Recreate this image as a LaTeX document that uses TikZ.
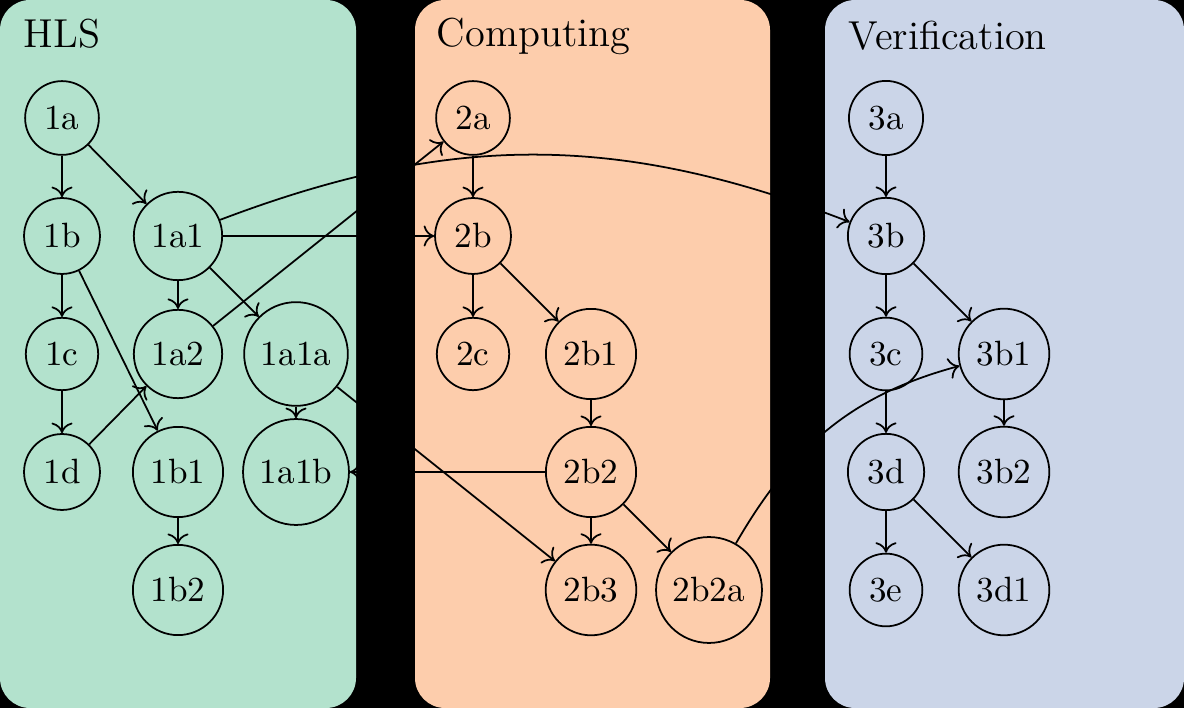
\documentclass[tikz,border=0pt]{standalone}
\usepackage{xcolor}
\usepackage{tikz}
\usetikzlibrary{positioning, arrows.meta}
\definecolor{hlsgreen}{HTML}{B3E2CD}
\definecolor{comporange}{HTML}{FDCDAC}
\definecolor{verifblue}{HTML}{CBD5E8}

\begin{document}
\begin{tikzpicture}[node distance=1.18cm, on grid, line width=0.5pt,
  >={Computer Modern Rightarrow[length=3pt, width=6pt]},
  task/.style={circle, draw=black, inner sep=3.2pt, font=\fontsize{10}{12}\selectfont},
  lane/.style={rounded corners=0.3cm},
  title/.style={anchor=base west, inner sep=0pt, font=\fontsize{11.5}{14}\selectfont}]
\fill[black] (0,0) rectangle (11.84,-7.08);
\fill[lane, hlsgreen] (0,0) rectangle (3.56,-7.08);
\fill[lane, comporange] (4.15,0) rectangle (7.70,-7.08);
\fill[lane, verifblue] (8.25,0) rectangle (11.84,-7.08);

\node (hls) [title] at (0.23,-0.48) {HLS};
\node (comp) [title] at (4.36,-0.47) {Computing};
\node (verif) [title] at (8.48,-0.50) {Verification};

% HLS
\node (1a) [task] at (0.62,-1.18) {1a};
\node (1b) [task, below=of 1a] {1b};
\node (1c) [task, below=of 1b] {1c};
\node (1d) [task, below=of 1c] {1d};
\node (1a1) [task, right=1.16cm of 1b] {1a1};
\node (1a2) [task, below=of 1a1] {1a2};
\node (1b1) [task, below=of 1a2] {1b1};
\node (1b2) [task, below=of 1b1] {1b2};
\node (1a1a) [task, right=of 1a2] {1a1a};
\node (1a1b) [task, below=of 1a1a] {1a1b};

% Computing
\node (2a) [task] at (4.73,-1.18) {2a};
\node (2b) [task, below=of 2a] {2b};
\node (2c) [task, below=of 2b] {2c};
\node (2b1) [task, right=of 2c] {2b1};
\node (2b2) [task, below=of 2b1] {2b2};
\node (2b3) [task, below=of 2b2] {2b3};
\node (2b2a) [task, right=of 2b3] {2b2a};

% Verification
\node (3a) [task] at (8.86,-1.18) {3a};
\node (3b) [task, below=of 3a] {3b};
\node (3c) [task, below=of 3b] {3c};
\node (3d) [task, below=of 3c] {3d};
\node (3e) [task, below=of 3d] {3e};
\node (3b1) [task, right=of 3c] {3b1};
\node (3b2) [task, below=of 3b1] {3b2};
\node (3d1) [task, below=of 3b2] {3d1};

\draw[->] (1a) -- (1b);
\draw[->] (1a) -- (1a1);
\draw[->] (1b) -- (1c);
\draw[->] (1b) -- (1b1);
\draw[->] (1c) -- (1d);
\draw[->] (1d) -- (1a2);
\draw[->] (1a1) -- (1a2);
\draw[->] (1a1) -- (1a1a);
\draw[->] (1a1a) -- (1a1b);
\draw[->] (1b1) -- (1b2);

\draw[->] (1a1) -- (2b);
\draw[->] (1a1) to[bend left=21] (3b);
\draw[->] (1a2) -- (2a);
\draw[->] (1a1a) -- (2b3);
\draw[->] (2b2) -- (1a1b);

\draw[->] (2a) -- (2b);
\draw[->] (2b) -- (2c);
\draw[->] (2b) -- (2b1);
\draw[->] (2b1) -- (2b2);
\draw[->] (2b2) -- (2b3);
\draw[->] (2b2) -- (2b2a);
\draw[->] (2b2a) to[out=60, in=195] (3b1);

\draw[->] (3a) -- (3b);
\draw[->] (3b) -- (3c);
\draw[->] (3b) -- (3b1);
\draw[->] (3c) -- (3d);
\draw[->] (3d) -- (3e);
\draw[->] (3d) -- (3d1);
\draw[->] (3b1) -- (3b2);
\end{tikzpicture}
\end{document}
